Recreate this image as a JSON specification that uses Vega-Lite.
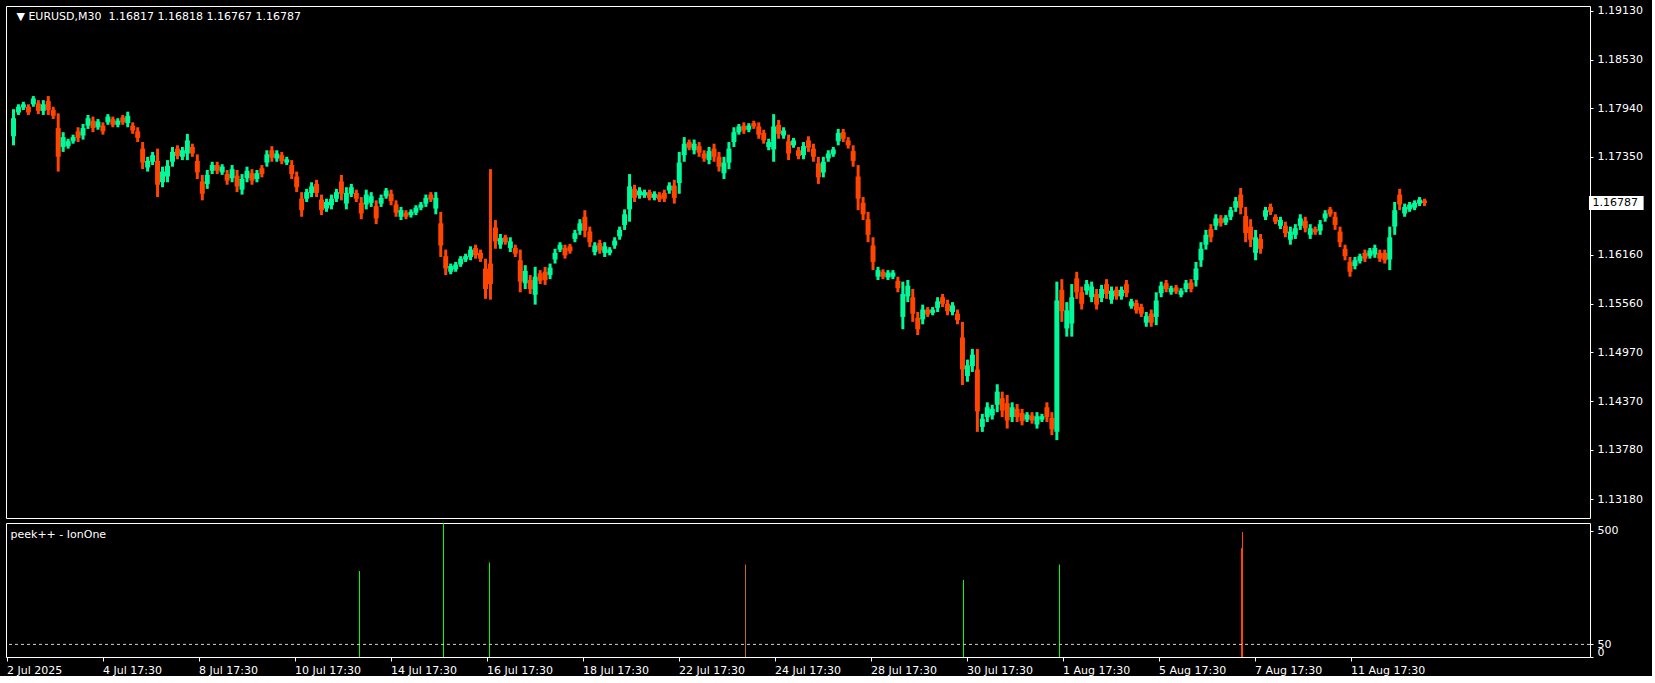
{
  "$schema": "https://vega.github.io/schema/vega-lite/v6.json",
  "background": "#000000",
  "padding": {"left": 5, "top": 4, "right": 7, "bottom": 0},
  "spacing": 3,
  "config": {
    "view": {"stroke": "#ffffff", "strokeWidth": 1},
    "axis": {"labelFont": "DejaVu Sans", "labelFontSize": 11, "labelColor": "#ffffff", "tickColor": "#ffffff", "domain": false, "grid": false},
    "text": {"font": "DejaVu Sans", "fontSize": 11}
  },
  "resolve": {"scale": {"x": "independent", "y": "independent"}},
  "vconcat": [
    {
      "width": 1584,
      "height": 512,
      "layer": [
        {
          "data": {"name": "candles", "values": [
{"b":2,"o":1.176,"h":1.1793,"l":1.1749,"c":1.1782},
{"b":7,"o":1.1789,"h":1.1799,"l":1.1786,"c":1.1796},
{"b":12,"o":1.1795,"h":1.1802,"l":1.1792,"c":1.1799},
{"b":17,"o":1.1796,"h":1.1799,"l":1.1786,"c":1.1789},
{"b":22,"o":1.1799,"h":1.1809,"l":1.1796,"c":1.1806},
{"b":27,"o":1.18,"h":1.1804,"l":1.1787,"c":1.1791},
{"b":32,"o":1.1791,"h":1.1804,"l":1.1786,"c":1.1799},
{"b":37,"o":1.1803,"h":1.1809,"l":1.1786,"c":1.1792},
{"b":42,"o":1.1792,"h":1.1796,"l":1.1781,"c":1.1785},
{"b":47,"o":1.177,"h":1.1788,"l":1.1717,"c":1.1735},
{"b":52,"o":1.1747,"h":1.1765,"l":1.1741,"c":1.1759},
{"b":57,"o":1.1748,"h":1.1757,"l":1.1745,"c":1.1754},
{"b":62,"o":1.1754,"h":1.1762,"l":1.1751,"c":1.1759},
{"b":67,"o":1.1766,"h":1.1771,"l":1.1753,"c":1.1758},
{"b":72,"o":1.1761,"h":1.1775,"l":1.1756,"c":1.177},
{"b":77,"o":1.1773,"h":1.1786,"l":1.1769,"c":1.1782},
{"b":82,"o":1.1779,"h":1.1784,"l":1.1765,"c":1.177},
{"b":87,"o":1.1771,"h":1.1781,"l":1.1768,"c":1.1778},
{"b":92,"o":1.1773,"h":1.1777,"l":1.1762,"c":1.1766},
{"b":97,"o":1.1777,"h":1.1787,"l":1.1774,"c":1.1784},
{"b":102,"o":1.1781,"h":1.1784,"l":1.1771,"c":1.1774},
{"b":107,"o":1.1774,"h":1.1782,"l":1.1771,"c":1.1779},
{"b":112,"o":1.1783,"h":1.1786,"l":1.1774,"c":1.1777},
{"b":117,"o":1.1776,"h":1.179,"l":1.1771,"c":1.1785},
{"b":122,"o":1.1773,"h":1.1777,"l":1.1763,"c":1.1767},
{"b":127,"o":1.1766,"h":1.1771,"l":1.1753,"c":1.1758},
{"b":132,"o":1.1745,"h":1.1753,"l":1.172,"c":1.1728},
{"b":137,"o":1.1722,"h":1.1735,"l":1.1717,"c":1.173},
{"b":142,"o":1.1729,"h":1.1741,"l":1.1725,"c":1.1737},
{"b":147,"o":1.173,"h":1.1745,"l":1.1686,"c":1.1701},
{"b":152,"o":1.1704,"h":1.1723,"l":1.1698,"c":1.1717},
{"b":157,"o":1.1711,"h":1.1731,"l":1.1704,"c":1.1724},
{"b":162,"o":1.1729,"h":1.1747,"l":1.1723,"c":1.1741},
{"b":167,"o":1.1745,"h":1.1749,"l":1.1732,"c":1.1736},
{"b":172,"o":1.1735,"h":1.1747,"l":1.1731,"c":1.1743},
{"b":177,"o":1.1739,"h":1.1763,"l":1.1731,"c":1.1755},
{"b":182,"o":1.1747,"h":1.1751,"l":1.1735,"c":1.1739},
{"b":187,"o":1.173,"h":1.1738,"l":1.1708,"c":1.1716},
{"b":192,"o":1.1705,"h":1.1713,"l":1.1682,"c":1.169},
{"b":197,"o":1.1702,"h":1.1719,"l":1.1696,"c":1.1713},
{"b":202,"o":1.1718,"h":1.1729,"l":1.1714,"c":1.1725},
{"b":207,"o":1.1725,"h":1.1729,"l":1.1714,"c":1.1718},
{"b":212,"o":1.1716,"h":1.1726,"l":1.1713,"c":1.1723},
{"b":217,"o":1.1714,"h":1.1719,"l":1.1701,"c":1.1706},
{"b":222,"o":1.1709,"h":1.1725,"l":1.1704,"c":1.172},
{"b":227,"o":1.1712,"h":1.1719,"l":1.1692,"c":1.1699},
{"b":232,"o":1.1695,"h":1.1714,"l":1.1689,"c":1.1708},
{"b":237,"o":1.1709,"h":1.1723,"l":1.1704,"c":1.1718},
{"b":242,"o":1.1715,"h":1.172,"l":1.1701,"c":1.1706},
{"b":247,"o":1.1708,"h":1.1719,"l":1.1704,"c":1.1715},
{"b":252,"o":1.1721,"h":1.1725,"l":1.171,"c":1.1714},
{"b":257,"o":1.1728,"h":1.1743,"l":1.1723,"c":1.1738},
{"b":262,"o":1.1743,"h":1.1748,"l":1.1729,"c":1.1734},
{"b":267,"o":1.1733,"h":1.1743,"l":1.1729,"c":1.1739},
{"b":272,"o":1.1737,"h":1.1741,"l":1.1726,"c":1.173},
{"b":277,"o":1.1728,"h":1.1735,"l":1.1725,"c":1.1732},
{"b":282,"o":1.1725,"h":1.1731,"l":1.1708,"c":1.1714},
{"b":287,"o":1.1711,"h":1.1717,"l":1.1692,"c":1.1698},
{"b":292,"o":1.1684,"h":1.1692,"l":1.1662,"c":1.167},
{"b":297,"o":1.1684,"h":1.1696,"l":1.168,"c":1.1692},
{"b":302,"o":1.1691,"h":1.1704,"l":1.1686,"c":1.1699},
{"b":307,"o":1.1702,"h":1.1707,"l":1.1686,"c":1.1691},
{"b":312,"o":1.1683,"h":1.1689,"l":1.1664,"c":1.167},
{"b":317,"o":1.1672,"h":1.1684,"l":1.1668,"c":1.168},
{"b":322,"o":1.1676,"h":1.1689,"l":1.1671,"c":1.1684},
{"b":327,"o":1.1684,"h":1.1696,"l":1.168,"c":1.1692},
{"b":332,"o":1.1705,"h":1.1713,"l":1.1682,"c":1.169},
{"b":337,"o":1.1678,"h":1.1698,"l":1.1671,"c":1.1691},
{"b":342,"o":1.169,"h":1.1702,"l":1.1686,"c":1.1698},
{"b":347,"o":1.1691,"h":1.1695,"l":1.168,"c":1.1684},
{"b":352,"o":1.1679,"h":1.1686,"l":1.1659,"c":1.1666},
{"b":357,"o":1.1677,"h":1.1695,"l":1.1671,"c":1.1689},
{"b":362,"o":1.1679,"h":1.1692,"l":1.1674,"c":1.1687},
{"b":367,"o":1.1675,"h":1.1682,"l":1.1653,"c":1.166},
{"b":372,"o":1.1678,"h":1.1689,"l":1.1674,"c":1.1685},
{"b":377,"o":1.1687,"h":1.1697,"l":1.1684,"c":1.1694},
{"b":382,"o":1.169,"h":1.1695,"l":1.1676,"c":1.1681},
{"b":387,"o":1.1677,"h":1.1682,"l":1.1662,"c":1.1667},
{"b":392,"o":1.1662,"h":1.1674,"l":1.1658,"c":1.167},
{"b":397,"o":1.1667,"h":1.167,"l":1.1659,"c":1.1662},
{"b":402,"o":1.1664,"h":1.1671,"l":1.1661,"c":1.1668},
{"b":407,"o":1.1667,"h":1.1676,"l":1.1664,"c":1.1673},
{"b":412,"o":1.1673,"h":1.168,"l":1.167,"c":1.1677},
{"b":417,"o":1.1678,"h":1.1689,"l":1.1674,"c":1.1685},
{"b":422,"o":1.1689,"h":1.1692,"l":1.168,"c":1.1683},
{"b":427,"o":1.1672,"h":1.1692,"l":1.1665,"c":1.1685},
{"b":432,"o":1.1654,"h":1.1668,"l":1.1613,"c":1.1627},
{"b":437,"o":1.1614,"h":1.1622,"l":1.1591,"c":1.1599},
{"b":442,"o":1.1595,"h":1.1605,"l":1.1592,"c":1.1602},
{"b":447,"o":1.1598,"h":1.1607,"l":1.1595,"c":1.1604},
{"b":452,"o":1.1604,"h":1.1614,"l":1.1601,"c":1.1611},
{"b":457,"o":1.161,"h":1.1617,"l":1.1607,"c":1.1614},
{"b":462,"o":1.1613,"h":1.1626,"l":1.1609,"c":1.1622},
{"b":467,"o":1.1624,"h":1.1628,"l":1.1611,"c":1.1615},
{"b":472,"o":1.1618,"h":1.1622,"l":1.1607,"c":1.1611},
{"b":477,"o":1.1599,"h":1.1611,"l":1.1562,"c":1.1574},
{"b":482,"o":1.1605,"h":1.172,"l":1.1561,"c":1.158},
{"b":487,"o":1.1649,"h":1.1658,"l":1.1623,"c":1.1632},
{"b":492,"o":1.1628,"h":1.1641,"l":1.1623,"c":1.1636},
{"b":497,"o":1.1637,"h":1.164,"l":1.1628,"c":1.1631},
{"b":502,"o":1.1624,"h":1.1637,"l":1.1619,"c":1.1632},
{"b":507,"o":1.1624,"h":1.1628,"l":1.1613,"c":1.1617},
{"b":512,"o":1.1609,"h":1.1622,"l":1.157,"c":1.1583},
{"b":517,"o":1.1581,"h":1.1603,"l":1.1574,"c":1.1596},
{"b":522,"o":1.1585,"h":1.1591,"l":1.1568,"c":1.1574},
{"b":527,"o":1.1567,"h":1.1601,"l":1.1555,"c":1.1589},
{"b":532,"o":1.1593,"h":1.1597,"l":1.158,"c":1.1584},
{"b":537,"o":1.1595,"h":1.1601,"l":1.1579,"c":1.1585},
{"b":542,"o":1.1591,"h":1.1605,"l":1.1586,"c":1.16},
{"b":547,"o":1.161,"h":1.1623,"l":1.1605,"c":1.1618},
{"b":552,"o":1.1622,"h":1.1631,"l":1.1619,"c":1.1628},
{"b":557,"o":1.1624,"h":1.1628,"l":1.1611,"c":1.1615},
{"b":562,"o":1.1626,"h":1.1629,"l":1.1617,"c":1.162},
{"b":567,"o":1.1635,"h":1.1646,"l":1.1631,"c":1.1642},
{"b":572,"o":1.1645,"h":1.1659,"l":1.164,"c":1.1654},
{"b":577,"o":1.1662,"h":1.167,"l":1.1637,"c":1.1645},
{"b":582,"o":1.1644,"h":1.165,"l":1.1625,"c":1.1631},
{"b":587,"o":1.1619,"h":1.1631,"l":1.1615,"c":1.1627},
{"b":592,"o":1.163,"h":1.1634,"l":1.1617,"c":1.1621},
{"b":597,"o":1.1618,"h":1.1631,"l":1.1613,"c":1.1626},
{"b":602,"o":1.1618,"h":1.1625,"l":1.1615,"c":1.1622},
{"b":607,"o":1.1627,"h":1.1637,"l":1.1623,"c":1.1633},
{"b":612,"o":1.1638,"h":1.165,"l":1.1634,"c":1.1646},
{"b":617,"o":1.1652,"h":1.1671,"l":1.1646,"c":1.1665},
{"b":622,"o":1.1671,"h":1.1714,"l":1.1656,"c":1.1699},
{"b":627,"o":1.1696,"h":1.1701,"l":1.168,"c":1.1685},
{"b":632,"o":1.1688,"h":1.1698,"l":1.1684,"c":1.1694},
{"b":637,"o":1.1688,"h":1.1695,"l":1.1685,"c":1.1692},
{"b":642,"o":1.1692,"h":1.1695,"l":1.1682,"c":1.1685},
{"b":647,"o":1.1685,"h":1.1693,"l":1.1682,"c":1.169},
{"b":652,"o":1.1689,"h":1.1692,"l":1.168,"c":1.1683},
{"b":657,"o":1.1691,"h":1.1695,"l":1.168,"c":1.1684},
{"b":662,"o":1.1694,"h":1.1704,"l":1.169,"c":1.17},
{"b":667,"o":1.17,"h":1.1707,"l":1.1678,"c":1.1685},
{"b":672,"o":1.1703,"h":1.1741,"l":1.169,"c":1.1728},
{"b":677,"o":1.1737,"h":1.1759,"l":1.1729,"c":1.1751},
{"b":682,"o":1.1753,"h":1.1756,"l":1.1743,"c":1.1746},
{"b":687,"o":1.1743,"h":1.1756,"l":1.1738,"c":1.1751},
{"b":692,"o":1.1748,"h":1.1753,"l":1.1735,"c":1.174},
{"b":697,"o":1.1739,"h":1.1743,"l":1.1729,"c":1.1733},
{"b":702,"o":1.1731,"h":1.1747,"l":1.1726,"c":1.1742},
{"b":707,"o":1.1745,"h":1.1751,"l":1.1729,"c":1.1735},
{"b":712,"o":1.1735,"h":1.1741,"l":1.1717,"c":1.1723},
{"b":717,"o":1.1715,"h":1.1735,"l":1.1708,"c":1.1728},
{"b":722,"o":1.1728,"h":1.1753,"l":1.172,"c":1.1745},
{"b":727,"o":1.1753,"h":1.1771,"l":1.1747,"c":1.1765},
{"b":732,"o":1.1765,"h":1.1775,"l":1.1762,"c":1.1772},
{"b":737,"o":1.1773,"h":1.1777,"l":1.1763,"c":1.1767},
{"b":742,"o":1.1768,"h":1.1776,"l":1.1765,"c":1.1773},
{"b":747,"o":1.1776,"h":1.1779,"l":1.1769,"c":1.1772},
{"b":752,"o":1.1772,"h":1.1777,"l":1.1757,"c":1.1762},
{"b":757,"o":1.1764,"h":1.1768,"l":1.1751,"c":1.1755},
{"b":762,"o":1.1747,"h":1.1757,"l":1.1743,"c":1.1753},
{"b":767,"o":1.1744,"h":1.1787,"l":1.1729,"c":1.1772},
{"b":772,"o":1.1774,"h":1.178,"l":1.1757,"c":1.1763},
{"b":777,"o":1.1761,"h":1.1771,"l":1.1757,"c":1.1767},
{"b":782,"o":1.1754,"h":1.1762,"l":1.1731,"c":1.1739},
{"b":787,"o":1.1749,"h":1.1758,"l":1.1746,"c":1.1755},
{"b":792,"o":1.1743,"h":1.1747,"l":1.1732,"c":1.1736},
{"b":797,"o":1.1737,"h":1.1753,"l":1.1732,"c":1.1748},
{"b":802,"o":1.1755,"h":1.176,"l":1.1741,"c":1.1746},
{"b":807,"o":1.1745,"h":1.1751,"l":1.1729,"c":1.1735},
{"b":812,"o":1.1727,"h":1.1735,"l":1.1702,"c":1.171},
{"b":817,"o":1.1716,"h":1.1735,"l":1.171,"c":1.1729},
{"b":822,"o":1.1733,"h":1.1743,"l":1.1729,"c":1.1739},
{"b":827,"o":1.1738,"h":1.1747,"l":1.1735,"c":1.1744},
{"b":832,"o":1.1754,"h":1.1769,"l":1.1749,"c":1.1764},
{"b":837,"o":1.1765,"h":1.1769,"l":1.1753,"c":1.1757},
{"b":842,"o":1.1755,"h":1.1759,"l":1.1745,"c":1.1749},
{"b":847,"o":1.1742,"h":1.1749,"l":1.1723,"c":1.173},
{"b":852,"o":1.1711,"h":1.1725,"l":1.167,"c":1.1684},
{"b":857,"o":1.1679,"h":1.1686,"l":1.1658,"c":1.1665},
{"b":862,"o":1.1659,"h":1.1668,"l":1.1631,"c":1.164},
{"b":867,"o":1.1627,"h":1.1637,"l":1.1597,"c":1.1607},
{"b":872,"o":1.1589,"h":1.1601,"l":1.1585,"c":1.1597},
{"b":877,"o":1.1595,"h":1.1598,"l":1.1586,"c":1.1589},
{"b":882,"o":1.1588,"h":1.1597,"l":1.1585,"c":1.1594},
{"b":887,"o":1.1589,"h":1.1597,"l":1.1586,"c":1.1594},
{"b":892,"o":1.1584,"h":1.1589,"l":1.157,"c":1.1575},
{"b":897,"o":1.154,"h":1.1583,"l":1.1525,"c":1.1568},
{"b":902,"o":1.1565,"h":1.1585,"l":1.1558,"c":1.1578},
{"b":907,"o":1.1564,"h":1.1574,"l":1.1534,"c":1.1544},
{"b":912,"o":1.1539,"h":1.1546,"l":1.1518,"c":1.1525},
{"b":917,"o":1.1537,"h":1.1555,"l":1.1531,"c":1.1549},
{"b":922,"o":1.1549,"h":1.1552,"l":1.154,"c":1.1543},
{"b":927,"o":1.1545,"h":1.1552,"l":1.1542,"c":1.1549},
{"b":932,"o":1.1551,"h":1.1564,"l":1.1546,"c":1.1559},
{"b":937,"o":1.1564,"h":1.1568,"l":1.1552,"c":1.1556},
{"b":942,"o":1.1556,"h":1.1561,"l":1.1542,"c":1.1547},
{"b":947,"o":1.1546,"h":1.1558,"l":1.1542,"c":1.1554},
{"b":952,"o":1.1544,"h":1.1549,"l":1.1531,"c":1.1536},
{"b":957,"o":1.1515,"h":1.1534,"l":1.1457,"c":1.1476},
{"b":962,"o":1.1468,"h":1.1488,"l":1.1461,"c":1.1481},
{"b":967,"o":1.148,"h":1.1501,"l":1.1473,"c":1.1494},
{"b":972,"o":1.1476,"h":1.1501,"l":1.14,"c":1.1425},
{"b":977,"o":1.1406,"h":1.1422,"l":1.14,"c":1.1416},
{"b":982,"o":1.1418,"h":1.1436,"l":1.1412,"c":1.143},
{"b":987,"o":1.142,"h":1.1433,"l":1.1415,"c":1.1428},
{"b":992,"o":1.1433,"h":1.1458,"l":1.1424,"c":1.1449},
{"b":997,"o":1.1441,"h":1.1449,"l":1.1418,"c":1.1426},
{"b":1002,"o":1.1435,"h":1.1445,"l":1.1404,"c":1.1414},
{"b":1007,"o":1.1418,"h":1.1436,"l":1.1412,"c":1.143},
{"b":1012,"o":1.1428,"h":1.1434,"l":1.1412,"c":1.1418},
{"b":1017,"o":1.1423,"h":1.1428,"l":1.1408,"c":1.1413},
{"b":1022,"o":1.1415,"h":1.1424,"l":1.1412,"c":1.1421},
{"b":1027,"o":1.142,"h":1.1424,"l":1.141,"c":1.1414},
{"b":1032,"o":1.1409,"h":1.1424,"l":1.1404,"c":1.1419},
{"b":1037,"o":1.1415,"h":1.1422,"l":1.1412,"c":1.1419},
{"b":1042,"o":1.143,"h":1.1436,"l":1.1412,"c":1.1418},
{"b":1047,"o":1.1417,"h":1.1424,"l":1.1396,"c":1.1403},
{"b":1052,"o":1.14,"h":1.1583,"l":1.139,"c":1.156},
{"b":1057,"o":1.1573,"h":1.1586,"l":1.1534,"c":1.1547},
{"b":1062,"o":1.1526,"h":1.1558,"l":1.1516,"c":1.1548},
{"b":1067,"o":1.1532,"h":1.158,"l":1.1516,"c":1.1564},
{"b":1072,"o":1.1587,"h":1.1595,"l":1.1562,"c":1.157},
{"b":1077,"o":1.157,"h":1.1577,"l":1.1549,"c":1.1556},
{"b":1082,"o":1.1572,"h":1.1585,"l":1.1567,"c":1.158},
{"b":1087,"o":1.1564,"h":1.1583,"l":1.1558,"c":1.1577},
{"b":1092,"o":1.1568,"h":1.1574,"l":1.1549,"c":1.1555},
{"b":1097,"o":1.1563,"h":1.1579,"l":1.1558,"c":1.1574},
{"b":1102,"o":1.158,"h":1.1586,"l":1.1562,"c":1.1568},
{"b":1107,"o":1.1561,"h":1.1577,"l":1.1556,"c":1.1572},
{"b":1112,"o":1.1573,"h":1.1577,"l":1.1561,"c":1.1565},
{"b":1117,"o":1.1565,"h":1.1577,"l":1.1561,"c":1.1573},
{"b":1122,"o":1.158,"h":1.1585,"l":1.1564,"c":1.1569},
{"b":1127,"o":1.1553,"h":1.1562,"l":1.155,"c":1.1559},
{"b":1132,"o":1.1557,"h":1.1561,"l":1.1544,"c":1.1548},
{"b":1137,"o":1.1552,"h":1.1556,"l":1.154,"c":1.1544},
{"b":1142,"o":1.1533,"h":1.1546,"l":1.1528,"c":1.1541},
{"b":1147,"o":1.1544,"h":1.1549,"l":1.1528,"c":1.1533},
{"b":1152,"o":1.154,"h":1.157,"l":1.153,"c":1.156},
{"b":1157,"o":1.1569,"h":1.1583,"l":1.1564,"c":1.1578},
{"b":1162,"o":1.1581,"h":1.1585,"l":1.157,"c":1.1574},
{"b":1167,"o":1.157,"h":1.1578,"l":1.1567,"c":1.1575},
{"b":1172,"o":1.1576,"h":1.1579,"l":1.1568,"c":1.1571},
{"b":1177,"o":1.1567,"h":1.1575,"l":1.1564,"c":1.1572},
{"b":1182,"o":1.1574,"h":1.1585,"l":1.157,"c":1.1581},
{"b":1187,"o":1.1582,"h":1.1586,"l":1.157,"c":1.1574},
{"b":1192,"o":1.1585,"h":1.1607,"l":1.1577,"c":1.1599},
{"b":1197,"o":1.1609,"h":1.1631,"l":1.1601,"c":1.1623},
{"b":1202,"o":1.1628,"h":1.1646,"l":1.1622,"c":1.164},
{"b":1207,"o":1.1647,"h":1.1653,"l":1.1631,"c":1.1637},
{"b":1212,"o":1.1651,"h":1.1665,"l":1.1646,"c":1.166},
{"b":1217,"o":1.166,"h":1.1664,"l":1.165,"c":1.1654},
{"b":1222,"o":1.1655,"h":1.1664,"l":1.1652,"c":1.1661},
{"b":1227,"o":1.1662,"h":1.1674,"l":1.1658,"c":1.167},
{"b":1232,"o":1.1673,"h":1.1686,"l":1.1668,"c":1.1681},
{"b":1237,"o":1.1689,"h":1.1697,"l":1.1665,"c":1.1673},
{"b":1242,"o":1.1663,"h":1.1674,"l":1.1631,"c":1.1642},
{"b":1247,"o":1.165,"h":1.1659,"l":1.1625,"c":1.1634},
{"b":1252,"o":1.1618,"h":1.1646,"l":1.1609,"c":1.1637},
{"b":1257,"o":1.1635,"h":1.1641,"l":1.1617,"c":1.1623},
{"b":1262,"o":1.1662,"h":1.1674,"l":1.1658,"c":1.167},
{"b":1267,"o":1.1674,"h":1.1678,"l":1.1664,"c":1.1668},
{"b":1272,"o":1.1662,"h":1.1665,"l":1.1653,"c":1.1656},
{"b":1277,"o":1.1651,"h":1.1662,"l":1.1647,"c":1.1658},
{"b":1282,"o":1.1651,"h":1.1656,"l":1.1637,"c":1.1642},
{"b":1287,"o":1.1634,"h":1.165,"l":1.1628,"c":1.1644},
{"b":1292,"o":1.164,"h":1.1653,"l":1.1635,"c":1.1648},
{"b":1297,"o":1.1651,"h":1.1665,"l":1.1646,"c":1.166},
{"b":1302,"o":1.1657,"h":1.1662,"l":1.1643,"c":1.1648},
{"b":1307,"o":1.164,"h":1.1653,"l":1.1635,"c":1.1648},
{"b":1312,"o":1.1647,"h":1.165,"l":1.164,"c":1.1643},
{"b":1317,"o":1.1645,"h":1.1658,"l":1.164,"c":1.1653},
{"b":1322,"o":1.166,"h":1.167,"l":1.1656,"c":1.1666},
{"b":1327,"o":1.1671,"h":1.1674,"l":1.1662,"c":1.1665},
{"b":1332,"o":1.1662,"h":1.1668,"l":1.1646,"c":1.1652},
{"b":1337,"o":1.1644,"h":1.165,"l":1.1625,"c":1.1631},
{"b":1342,"o":1.1623,"h":1.1628,"l":1.1609,"c":1.1614},
{"b":1347,"o":1.1607,"h":1.1613,"l":1.1589,"c":1.1595},
{"b":1352,"o":1.1602,"h":1.1613,"l":1.1598,"c":1.1609},
{"b":1357,"o":1.1608,"h":1.1617,"l":1.1605,"c":1.1614},
{"b":1362,"o":1.1618,"h":1.1622,"l":1.1607,"c":1.1611},
{"b":1367,"o":1.1614,"h":1.1624,"l":1.1611,"c":1.1621},
{"b":1372,"o":1.1616,"h":1.1628,"l":1.1612,"c":1.1624},
{"b":1377,"o":1.1618,"h":1.1622,"l":1.1607,"c":1.1611},
{"b":1382,"o":1.1618,"h":1.1622,"l":1.1605,"c":1.1609},
{"b":1387,"o":1.161,"h":1.165,"l":1.1597,"c":1.1637},
{"b":1392,"o":1.165,"h":1.168,"l":1.164,"c":1.167},
{"b":1397,"o":1.1689,"h":1.1696,"l":1.167,"c":1.1677},
{"b":1402,"o":1.1666,"h":1.1678,"l":1.1662,"c":1.1674},
{"b":1407,"o":1.1671,"h":1.168,"l":1.1668,"c":1.1677},
{"b":1412,"o":1.1673,"h":1.1682,"l":1.167,"c":1.1679},
{"b":1417,"o":1.1678,"h":1.1686,"l":1.1675,"c":1.1683},
{"b":1422,"o":1.16817,"h":1.1684,"l":1.1675,"c":1.16787}
          ]},
          "mark": {"type": "rule", "strokeWidth": 3, "strokeCap": "butt"},
          "encoding": {
            "x": {"field": "b", "type": "quantitative", "scale": {"domain": [-0.5, 1583.5], "nice": false, "zero": false}, "axis": null},
            "y": {"field": "h", "type": "quantitative", "scale": {"domain": [1.12951, 1.19187], "nice": false, "zero": false},
              "axis": {"orient": "right", "title": null, "values": [1.1318, 1.1378, 1.1437, 1.1497, 1.1556, 1.1616, 1.1735, 1.1794, 1.1853, 1.1913], "format": ".5f", "tickSize": 3, "labelPadding": 4, "labelFlush": false, "labelOverlap": false}},
            "y2": {"field": "l"},
            "color": {"condition": {"test": "datum.c >= datum.o", "value": "#00fa9a"}, "value": "#ff4500"}
          }
        },
        {
          "data": {"name": "candles"},
          "mark": {"type": "bar", "size": 5},
          "encoding": {
            "x": {"field": "b", "type": "quantitative", "scale": {"domain": [-0.5, 1583.5], "nice": false, "zero": false}, "axis": null},
            "y": {"field": "o", "type": "quantitative", "scale": {"domain": [1.12951, 1.19187], "nice": false, "zero": false}},
            "y2": {"field": "c"},
            "color": {"condition": {"test": "datum.c >= datum.o", "value": "#00fa9a"}, "value": "#ff4500"}
          }
        },
        {
          "data": {"values": [{"t": "▼ EURUSD,M30\u00a0\u00a01.16817 1.16818 1.16767 1.16787"}]},
          "mark": {"type": "text", "align": "left", "baseline": "middle", "color": "#ffffff"},
          "encoding": {
            "x": {"datum": 5, "type": "quantitative", "scale": {"domain": [-0.5, 1583.5], "nice": false, "zero": false}, "axis": null},
            "y": {"datum": 1.19053, "type": "quantitative", "scale": {"domain": [1.12951, 1.19187], "nice": false, "zero": false}},
            "text": {"field": "t"}
          }
        },
        {
          "data": {"values": [{"p": 1.16787}]},
          "mark": {"type": "rect", "color": "#ffffff"},
          "encoding": {
            "x": {"datum": 1587.5, "type": "quantitative", "scale": {"domain": [-0.5, 1583.5], "nice": false, "zero": false}, "axis": null},
            "x2": {"datum": 1642.5},
            "y": {"datum": 1.16872, "type": "quantitative", "scale": {"domain": [1.12951, 1.19187], "nice": false, "zero": false}},
            "y2": {"datum": 1.16702}
          }
        },
        {
          "data": {"values": [{"p": 1.16787, "t": "1.16787"}]},
          "mark": {"type": "text", "align": "left", "baseline": "middle", "color": "#000000"},
          "encoding": {
            "x": {"datum": 1591, "type": "quantitative", "scale": {"domain": [-0.5, 1583.5], "nice": false, "zero": false}, "axis": null},
            "y": {"field": "p", "type": "quantitative", "scale": {"domain": [1.12951, 1.19187], "nice": false, "zero": false}},
            "text": {"field": "t"}
          }
        }
      ]
    },
    {
      "width": 1584,
      "height": 134,
      "layer": [
        {
          "data": {"values": [
            {"b": 353, "v": 341, "k": "buy"},
            {"b": 437, "v": 531, "k": "buy"},
            {"b": 483, "v": 375, "k": "buy"},
            {"b": 739, "v": 367, "k": "weak"},
            {"b": 957, "v": 306, "k": "buy"},
            {"b": 1053, "v": 367, "k": "buy"},
            {"b": 1235, "v": 432, "k": "sell"},
            {"b": 1236, "v": 496, "k": "sell"}
          ]},
          "mark": {"type": "rule", "strokeWidth": 1},
          "encoding": {
            "x": {"field": "b", "type": "quantitative", "scale": {"domain": [-0.5, 1583.5], "nice": false, "zero": false},
              "axis": {"orient": "bottom", "title": null, "values": [0, 96, 192, 288, 384, 480, 576, 672, 768, 864, 960, 1056, 1152, 1248, 1344],
                "labelExpr": "['2 Jul 2025','4 Jul 17:30','8 Jul 17:30','10 Jul 17:30','14 Jul 17:30','16 Jul 17:30','18 Jul 17:30','22 Jul 17:30','24 Jul 17:30','28 Jul 17:30','30 Jul 17:30','1 Aug 17:30','5 Aug 17:30','7 Aug 17:30','11 Aug 17:30'][round(datum.value / 96)]",
                "labelAlign": "left", "labelBaseline": "top", "labelPadding": 3, "tickSize": 4, "labelFlush": false, "labelOverlap": false}},
            "y": {"field": "v", "type": "quantitative", "scale": {"domain": [0, 531.7], "nice": false, "zero": false},
              "axis": {"orient": "right", "title": null, "values": [0, 50, 500], "format": "d", "tickSize": 3, "labelPadding": 4, "labelOverlap": false, "labelFlush": false,
                "labelBaseline": {"condition": {"test": "datum.value == 0", "value": "bottom"}, "value": "middle"}}},
            "y2": {"datum": 0},
            "color": {"field": "k", "type": "nominal", "scale": {"domain": ["buy", "weak", "sell"], "range": ["#00ff00", "#c8643c", "#ff4500"]}, "legend": null}
          }
        },
        {
          "data": {"values": [{"lvl": 50}]},
          "mark": {"type": "rule", "color": "#d0d0d0", "strokeDash": [3, 3], "strokeWidth": 1},
          "encoding": {
            "y": {"field": "lvl", "type": "quantitative", "scale": {"domain": [0, 531.7], "nice": false, "zero": false}}
          }
        },
        {
          "data": {"values": [{"t": "peek++ - IonOne"}]},
          "mark": {"type": "text", "align": "left", "baseline": "middle", "color": "#ffffff"},
          "encoding": {
            "x": {"datum": 4, "type": "quantitative", "scale": {"domain": [-0.5, 1583.5], "nice": false, "zero": false}},
            "y": {"datum": 485, "type": "quantitative", "scale": {"domain": [0, 531.7], "nice": false, "zero": false}},
            "text": {"field": "t"}
          }
        }
      ]
    }
  ]
}
